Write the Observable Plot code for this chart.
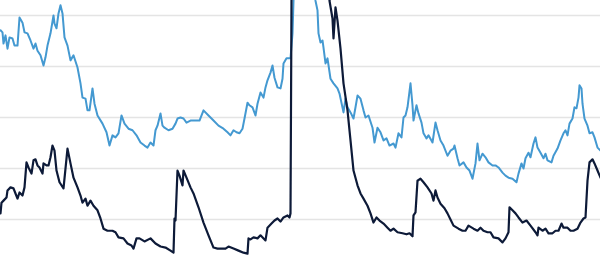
<!DOCTYPE html>
<html>
<head>
<meta charset="utf-8">
<script src="https://cdn.jsdelivr.net/npm/d3@7"></script>
<script src="https://cdn.jsdelivr.net/npm/@observablehq/plot@0.6"></script>
<style>
  html, body { margin: 0; padding: 0; background: #fff; }
  #chart svg { display: block; }
</style>
</head>
<body>
<div id="chart"></div>
<script>
// Time index (arbitrary units) and values for the light-blue series
const lightT = [0,2,3,5,7,9,12,14,17,19,22,24,27,30,33,35,37,40,43,45,47,50,53,54,56,58,60,62,64,67,70,73,77,80,82,85,87,89,92,94,97,102,106,109,112,115,118,121,124,128,132,136,140,144,147,150,153,155,157,160,162,164,168,172,175,177,180,183,186,190,195,199,203,208,213,218,223,227,230,233,236,239,242,244,247,249,252,255,257,260,263,265,267,270,272,274,277,280,282,283,286,290,292,293,295,300,310,314,315,317,318,320,322,323,325,327,330,333,337,339,343,345,347,350,353,355,357,360,363,365,368,372,374,377,380,383,386,389,393,395,398,401,403,405,407,410,412,413,416,418,421,423,426,428,432,435,437,440,443,447,450,453,454,457,459,463,466,469,472,475,477,479,482,485,488,492,495,498,502,505,508,512,516,518,521,523,525,528,530,533,535,537,540,543,545,547,551,553,557,560,563,565,567,569,572,574,576,578,579,581,582,584,587,589,592,594,597,600];
const lightV = [47.1,46.7,44.5,46.1,43.5,45.7,45.5,44.1,44.1,49.6,48.6,46.7,46.5,45.1,43.5,44.5,43.1,42.2,40.2,41.8,44.1,46.5,50.0,48.4,47.5,50.4,52.0,50.4,45.7,44.1,41.2,42.2,39.8,36.7,33.9,33.7,31.4,31.4,35.7,32.7,30.4,28.8,27.1,24.5,26.5,26.1,26.9,30.4,28.8,27.8,27.5,26.5,25.1,24.5,24.1,25.1,24.5,27.5,28.4,30.8,28.4,28.0,27.5,27.8,28.8,29.8,30.0,29.8,29.0,29.4,29.4,29.4,31.4,30.4,29.4,28.4,27.8,27.1,26.5,27.5,27.1,26.9,27.8,29.8,32.9,32.4,32.0,30.4,32.7,34.9,33.9,35.9,37.3,38.8,40.2,37.8,35.9,35.7,37.6,40.6,41.6,41.6,46.5,52.9,58,62,60,55,52.9,51.0,46.5,44.7,45.1,43.7,40.6,41.6,37.6,36.7,35.7,34.7,31.0,33.7,32.0,31.0,29.8,32.0,34.3,33.7,31.4,30.0,30.4,28.0,25.1,28.0,27.1,25.5,25.9,24.5,24.9,24.1,26.9,26.1,30.0,30.4,32.0,36.7,32.4,29.4,32.4,30.8,29.0,26.9,25.9,26.5,25.1,29.0,27.5,25.5,24.5,22.5,23.5,23.9,24.5,22.0,20.6,21.2,20.2,19.6,18.0,21.0,24.9,21.6,22.9,22.2,21.2,20.6,20.6,20.2,19.2,18.6,18.2,18.0,17.3,19.0,21.0,20.0,22.0,23.1,22.2,24.9,26.1,24.1,23.1,22.0,22.9,21.6,21.2,22.5,23.9,25.5,26.9,27.5,26.5,28.8,29.8,32.0,31.8,33.9,36.3,35.7,32.7,29.8,28.4,26.9,27.1,26.1,24.1,23.5];

// Time index and values for the dark-navy series
const darkT = [0,1,3,6,7,10,13,15,17,19,22,24,26,28,31,33,35,37,39,42,43,46,48,50,52,54,56,59,63,67,70,73,77,80,82,85,87,90,93,97,100,103,107,112,115,118,123,127,131,133,136,139,144,150,155,160,165,170,173,174,175,177,179,182,183,186,190,193,198,203,208,213,217,222,225,228,233,238,243,247,248,250,253,257,260,265,267,271,274,277,280,283,287,289,290,291,293,300,315,325,328,329,332,333,335,337,340,343,347,350,353,357,360,363,367,370,373,376,379,383,387,390,393,397,402,406,409,412,413,415,417,420,423,427,431,433,435,437,440,444,447,450,453,458,462,465,468,473,477,480,483,487,490,493,498,502,505,508,509,512,515,518,522,526,530,535,537,538,542,545,548,552,555,558,561,563,567,570,573,577,580,583,585,587,589,592,594,597,600];
const darkV = [11.2,13.3,13.7,14.3,15.7,16.3,16.1,15.1,14.1,15.3,14.7,16.3,21.2,20.2,19.0,21.6,21.8,20.6,20.2,19.0,21.0,20.6,20.6,22.2,24.5,23.5,19.6,17.3,16.1,23.9,21.0,18.2,16.3,14.7,13.3,14.1,12.7,13.7,12.7,11.8,10.2,8.2,7.8,7.8,7.5,6.5,6.3,5.3,4.9,4.3,6.3,6.3,5.7,6.3,5.3,4.7,4.5,3.9,3.5,10.2,9.8,19.6,18.6,16.7,19.6,18.2,16.3,15.1,12.4,9.4,6.9,4.5,4.3,4.3,4.3,4.7,4.3,3.9,3.5,3.3,6.3,6.1,6.5,6.3,6.9,5.9,8.4,9.2,9.8,10.2,9.6,10.4,10.8,10.4,11.2,52.9,80,100,90,70,58,52.9,49.4,45.5,51.6,49.0,43.5,36.7,31.4,25.5,19.6,16.7,15.1,14.1,12.7,11.2,9.4,10.4,9.8,9.2,8.4,7.8,8.2,7.5,7.3,7.1,7.3,6.7,10.8,11.4,17.6,18.0,17.3,16.3,15.1,13.7,15.7,14.3,13.1,12.2,11.2,10.0,8.8,8.2,7.8,7.8,8.8,8.2,7.8,8.4,7.8,7.5,7.5,6.5,6.3,5.5,6.3,7.5,12.4,11.8,11.2,10.4,9.4,9.8,8.8,7.5,6.9,8.4,7.8,8.2,7.3,7.3,7.8,7.8,9.2,8.4,8.4,7.8,7.8,8.2,9.4,10.2,10.4,17.6,21.2,21.8,21.0,19.6,18.2];

const gridValues = [10, 20, 30, 40, 50];

const light = lightT.map((t, i) => ({t, v: lightV[i]}));
const dark = darkT.map((t, i) => ({t, v: darkV[i]}));

const chart = Plot.plot({
  width: 600,
  height: 262,
  marginTop: 0,
  marginRight: 0,
  marginBottom: 0,
  marginLeft: 0,
  x: {domain: [0, 600], axis: null},
  y: {domain: [1.57, 52.94], axis: null},
  style: {background: "#fff"},
  marks: [
    Plot.gridY(gridValues, {stroke: "#e4e4e4", strokeOpacity: 1, strokeWidth: 1.6}),
    Plot.line(light, {x: "t", y: "v", stroke: "#4499d1", strokeWidth: 2, clip: true}),
    Plot.line(dark, {x: "t", y: "v", stroke: "#0d1a38", strokeWidth: 2.2, clip: true})
  ]
});
document.getElementById("chart").appendChild(chart);
</script>
</body>
</html>
